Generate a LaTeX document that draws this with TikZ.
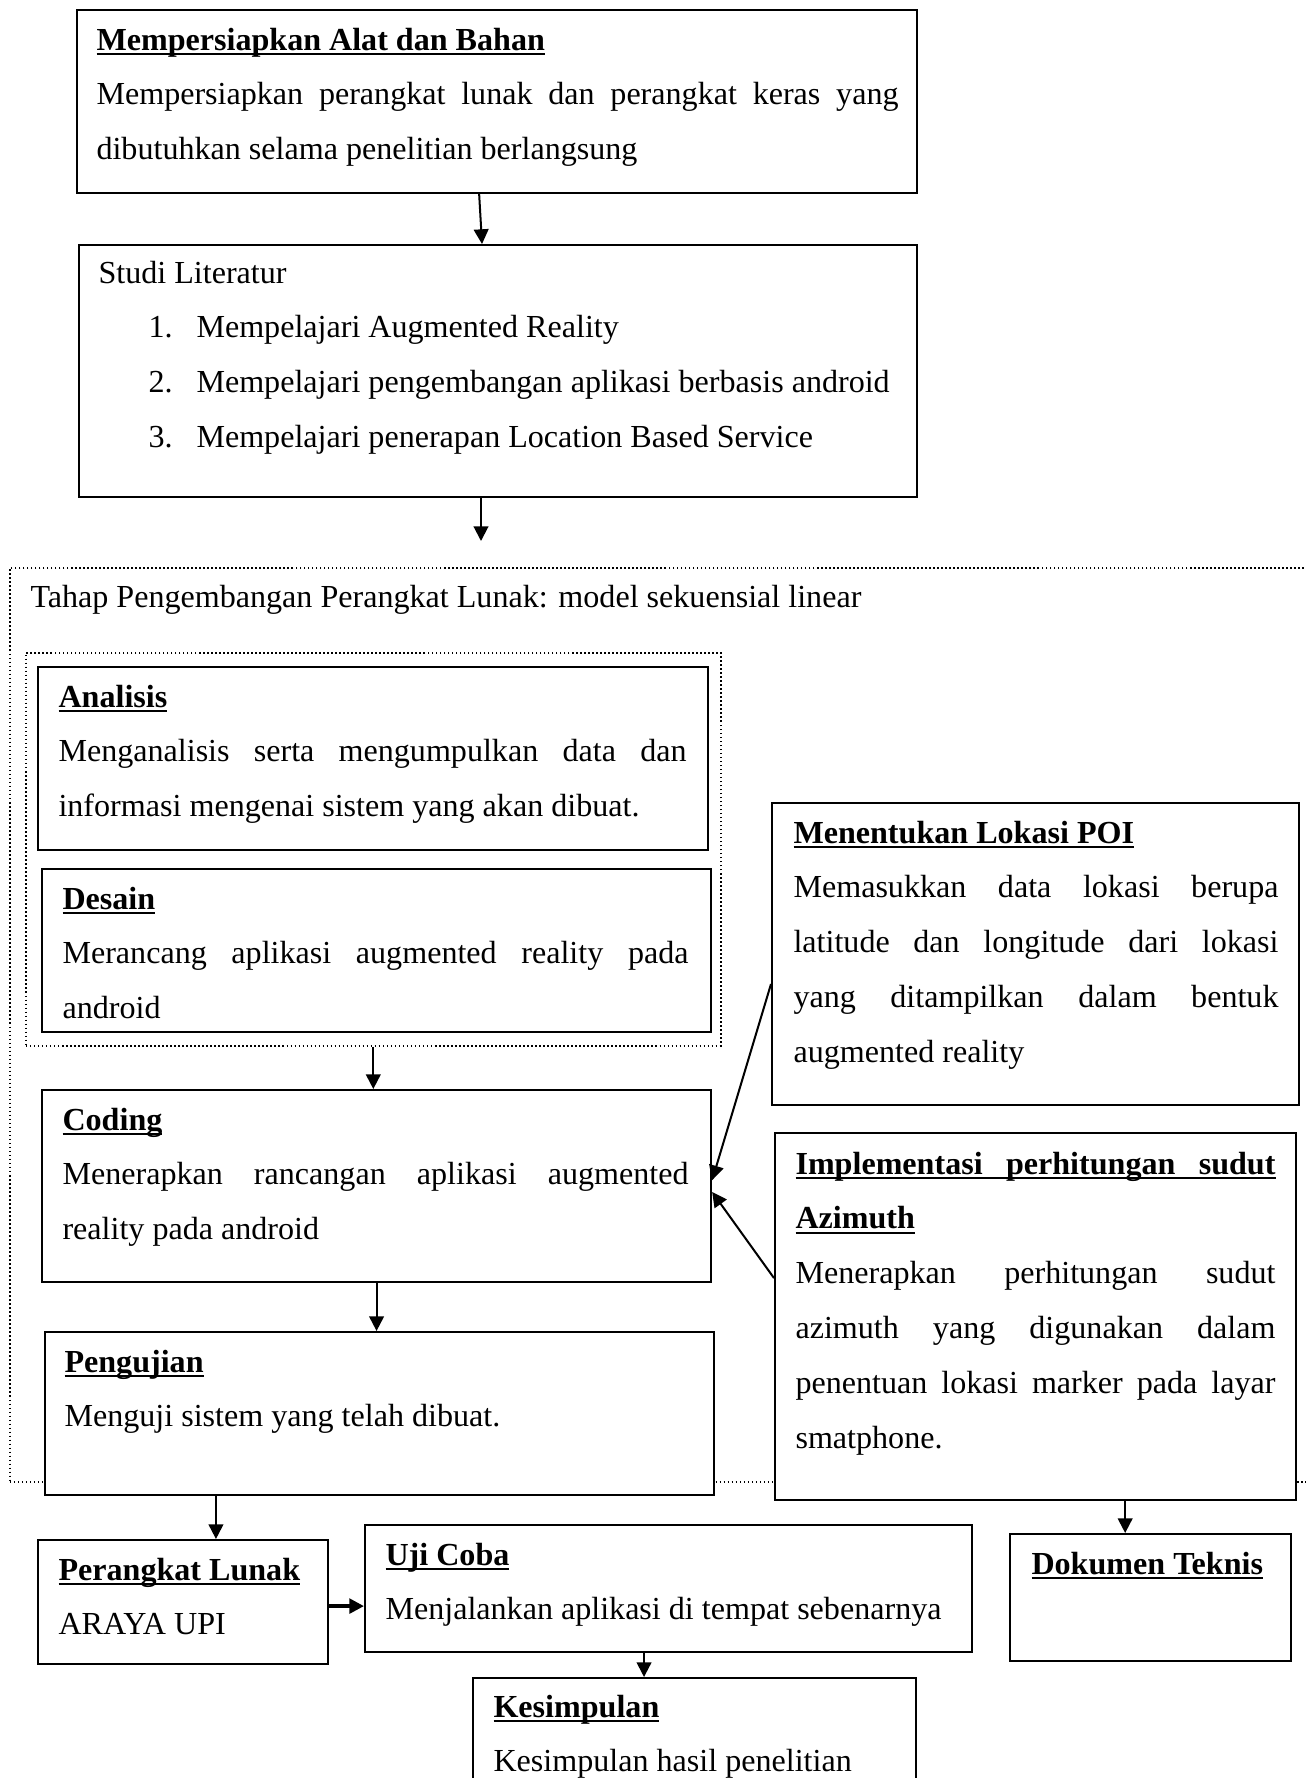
\documentclass[tikz,border=0pt]{standalone}
\usepackage{fontspec}
\setmainfont{Liberation Serif}
\usetikzlibrary{arrows.meta}

\newlength{\pxu}\setlength{\pxu}{0.374pt}
\newcommand{\judul}[1]{\textbf{\setbox0=\hbox{#1}\rlap{\rule[-2pt]{\wd0}{0.75pt}}\box0}}
\newcommand{\rata}[2]{\makebox[#1\pxu][s]{#2}}
\newcommand{\isi}[1]{\parbox[t]{830\pxu}{#1}}

\tikzset{
  kotak/.style 2 args={draw, fill=white, line width=0.8pt, anchor=north west, inner sep=0pt,
    minimum width=#1*0.374pt, minimum height=#2*0.374pt},
  titik/.style 2 args={kotak={#1}{#2}, fill=none, line width=0.6pt, dash pattern=on 0.6pt off 0.9pt},
  teks/.style={anchor=base west, inner sep=0pt, font=\fontsize{12}{20.5}\selectfont},
  panah/.style={-{Triangle[length=5.5pt,width=5.5pt]}, line width=0.75pt},
}

\begin{document}
\begin{tikzpicture}[x=0.374pt,y=-0.374pt]
  \useasboundingbox (0,0) rectangle (1306,1778);

  %Shape: Dotted Rectangle
  \node[titik={1311}{914}] (tahap) at (9,567) {};
  \node[titik={695}{393}] (rancang) at (25,652) {};

  %Shape: Rectangle
  \node[kotak={840}{183}] (alat) at (76,9) {};
  \node[kotak={838}{252}] (studi) at (78,244) {};
  \node[kotak={670}{183}] (analisis) at (37,666) {};
  \node[kotak={669}{163}] (desain) at (41,868) {};
  \node[kotak={669}{192}] (coding) at (41,1089) {};
  \node[kotak={669}{163}] (pengujian) at (44,1331) {};
  \node[kotak={527}{302}] (poi) at (771,802) {};
  \node[kotak={521}{367}] (azimuth) at (774,1132) {};
  \node[kotak={290}{124}] (perangkat) at (37,1539) {};
  \node[kotak={607}{127}] (ujicoba) at (364,1524) {};
  \node[kotak={281}{127}] (dokumen) at (1009,1533) {};
  \node[kotak={443}{150}] (kesimpulan) at (472,1677) {};

  % Text Node
  \node[teks] (t-alat) at (96,50) {\isi{\judul{Mempersiapkan Alat dan Bahan}\\
    \rata{802}{Mempersiapkan perangkat lunak dan perangkat keras yang}\\
    dibutuhkan selama penelitian berlangsung}};
  % Text Node
  \node[teks] (t-studi) at (98,283) {\isi{Studi Literatur\\
    \hspace*{50\pxu}\makebox[48\pxu][l]{1.}Mempelajari Augmented Reality\\
    \hspace*{50\pxu}\makebox[48\pxu][l]{2.}Mempelajari pengembangan aplikasi berbasis android\\
    \hspace*{50\pxu}\makebox[48\pxu][l]{3.}Mempelajari penerapan Location Based Service}};
  % Text Node
  \node[teks] (t-tahap) at (30,607) {Tahap Pengembangan Perangkat Lunak: model sekuensial linear};
  % Text Node
  \node[teks] (t-analisis) at (58,707) {\isi{\judul{Analisis}\\
    \rata{628}{Menganalisis serta mengumpulkan data dan}\\
    informasi mengenai sistem yang akan dibuat.}};
  % Text Node
  \node[teks] (t-desain) at (62,909) {\isi{\judul{Desain}\\
    \rata{626}{Merancang aplikasi augmented reality pada}\\
    android}};
  % Text Node
  \node[teks] (t-coding) at (62,1130) {\isi{\judul{Coding}\\
    \rata{626}{Menerapkan rancangan aplikasi augmented}\\
    reality pada android}};
  % Text Node
  \node[teks] (t-pengujian) at (64,1372) {\isi{\judul{Pengujian}\\
    Menguji sistem yang telah dibuat.}};
  % Text Node
  \node[teks] (t-poi) at (793,843) {\isi{\judul{Menentukan Lokasi POI}\\
    \rata{485}{Memasukkan data lokasi berupa}\\
    \rata{485}{latitude dan longitude dari lokasi}\\
    \rata{485}{yang ditampilkan dalam bentuk}\\
    augmented reality}};
  % Text Node
  \node[teks] (t-azimuth) at (795,1174) {\isi{\judul{\rata{480}{Implementasi perhitungan sudut}}\\
    \judul{Azimuth}\\
    \rata{480}{Menerapkan perhitungan sudut}\\
    \rata{480}{azimuth yang digunakan dalam}\\
    \rata{480}{penentuan lokasi marker pada layar}\\
    smatphone.}};
  % Text Node
  \node[teks] (t-perangkat) at (58,1580) {\isi{\judul{Perangkat Lunak}\\ ARAYA UPI}};
  % Text Node
  \node[teks] (t-ujicoba) at (385,1565) {\isi{\judul{Uji Coba}\\ Menjalankan aplikasi di tempat sebenarnya}};
  % Text Node
  \node[teks] (t-dokumen) at (1031,1574) {\judul{Dokumen Teknis}};
  % Text Node
  \node[teks] (t-kesimpulan) at (493,1717) {\isi{\judul{Kesimpulan}\\ Kesimpulan hasil penelitian}};

  %Arrows
  \coordinate (masuk) at (481,541);
  \coordinate (pl) at ([xshift=12.3pt]perangkat.north);
  \coordinate (pu) at ([yshift=-1.5pt]perangkat.east);
  \coordinate (ks) at ([xshift=-18.9pt]kesimpulan.north);
  \coordinate (dk) at ([xshift=-9.5pt]dokumen.north);
  \draw[panah] ([xshift=-6.7pt]alat.south) -- ([xshift=-6pt]studi.north);
  \draw[panah] (studi.south -| masuk) -- (masuk);
  \draw[panah] (rancang.south) -- (coding.north -| rancang.south);
  \draw[panah] (coding.south) -- (pengujian.north -| coding.south);
  \draw[panah] ([yshift=-11.2pt]poi.west) -- ([yshift=2.2pt]coding.east);
  \draw[panah] ([yshift=14.4pt]azimuth.west) -- ([yshift=-2.2pt]coding.east);
  \draw[panah] (pengujian.south -| pl) -- (pl);
  \draw[panah, line width=1.3pt] (pu) -- (ujicoba.west |- pu);
  \draw[panah] (ujicoba.south -| ks) -- (ks);
  \draw[panah] (azimuth.south -| dk) -- (dk);
\end{tikzpicture}
\end{document}
